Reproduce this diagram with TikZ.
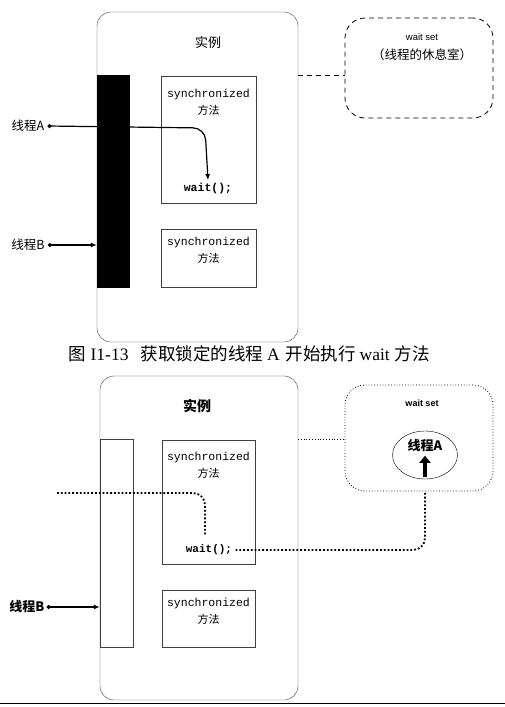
\documentclass[tikz,border=0pt]{standalone}
\usepackage{fontspec}
\setmainfont{Liberation Serif}
\setsansfont{Liberation Sans}
\setmonofont{Liberation Mono}
\newfontfamily\cjk{Noto Sans CJK SC}
\usetikzlibrary{arrows.meta,shapes.geometric}
\tikzset{
  inst/.style={draw=black!75, thin, rounded corners=14pt},
  syncbox/.style={draw=black!75, thin},
  codetxt/.style={font=\ttfamily\fontsize{11.5}{13}\selectfont},
  hantxt/.style={font=\cjk\fontsize{11}{13}\selectfont},
  thread/.style={font=\cjk\fontsize{12.5}{14}\selectfont, inner sep=3pt},
}
\begin{document}
\begin{tikzpicture}[x=1pt, y=-1pt, >={Latex[length=6pt,width=5pt]}]
\useasboundingbox (0,0) rectangle (505,707);
% Objeto (A tiene el bloqueo)
\node[inst, minimum width=201, minimum height=330] (objA) at (197.5,177) {};
\node[font=\cjk\fontsize{13}{15}\selectfont] (instA) at (208,43) {实例};
\node[syncbox, minimum width=95, minimum height=127] (syncA1) at (208.5,139.5) {};
\node[codetxt] (synA1) at (208.5,95) {synchronized};
\node[hantxt] (metA1) at (208.5,110) {方法};
\node[codetxt, font=\ttfamily\bfseries\fontsize{11.5}{13}\selectfont] (waitA) at (208,189) {wait();};
\node[syncbox, minimum width=95, minimum height=58] (syncA2) at (208.5,258) {};
\node[codetxt] (synA2) at (208.5,243) {synchronized};
\node[hantxt] (metA2) at (208.5,258) {方法};
\node[fill=black, minimum width=33, minimum height=213, inner sep=0] (lockA) at (113.5,181.5) {};
% Hilos
\node[thread] (tA) at (28,126) {线程A};
\node[thread] (tB) at (28,245) {线程B};
\draw[line width=1.2pt, {Circle[length=4pt]}->, rounded corners=12pt] (tA.east) -- (205,128) -- (waitA.north);
\draw[line width=1.2pt, {Circle[length=4pt]}->] (tB.east) -- (tB.east -| lockA.west);
% Wait set
\node[draw, thick, dashed, dash pattern=on 5pt off 4pt, rounded corners=20pt, minimum width=148, minimum height=100] (wsA) at (419,68) {};
\node[font=\sffamily\fontsize{9.5}{11}\selectfont] (wsAtit) at (422,37) {wait set};
\node[font=\cjk\fontsize{12.5}{14}\selectfont] (wsAsub) at (422,55) {（线程的休息室）};
\coordinate (jA) at (298,75);
\draw[thick, dashed, dash pattern=on 5pt off 4pt] (jA) -- (jA -| wsA.west);
% Pie
\node[font=\fontsize{17.5}{20}\selectfont, inner sep=0] (capA) at (249,354)
  {{\cjk 图}\hspace{5pt}I1-13\hspace{12pt}{\cjk 获取锁定的线程}\hspace{4pt}A\hspace{6pt}{\cjk 开始执行}\hspace{4pt}wait\hspace{5pt}{\cjk 方法}};
% Objeto (A en el wait set)
\node[inst, minimum width=198, minimum height=324] (objB) at (199,538) {};
\node[font=\cjk\bfseries\fontsize{14}{16}\selectfont] (instB) at (197,406) {实例};
\node[draw=black!75, thin, fill=white, minimum width=33, minimum height=208, inner sep=0] (lockB) at (116.5,543) {};
\node[syncbox, minimum width=93, minimum height=124] (syncB1) at (208.5,502) {};
\node[codetxt] (synB1) at (208.5,458) {synchronized};
\node[hantxt] (metB1) at (208.5,473) {方法};
\node[codetxt, font=\ttfamily\bfseries\fontsize{11}{13}\selectfont] (waitB) at (209,550) {wait();};
\node[syncbox, minimum width=93, minimum height=57] (syncB2) at (208.5,618.5) {};
\node[codetxt] (synB2) at (208.5,604) {synchronized};
\node[hantxt] (metB2) at (208.5,619) {方法};
% Wait set
\node[draw, thick, dotted, rounded corners=20pt, minimum width=148, minimum height=106] (wsB) at (419,438) {};
\node[font=\sffamily\bfseries\fontsize{9}{11}\selectfont] (wsBtit) at (422,403) {wait set};
\node[draw, thin, ellipse, minimum width=65, minimum height=48] (thrA) at (425,455) {};
\node[font=\cjk\bfseries\fontsize{13}{15}\selectfont] (thrAtxt) at (425,446) {线程A};
\draw[line width=4.5pt, -{Triangle[width=11pt,length=7pt]}] ([yshift=2pt]thrA.south) -- (thrAtxt.south);
\coordinate (jB) at (298,439);
\draw[thick, dotted] (jB) -- (jB -| wsB.west);
% Camino de A
\coordinate (fromA) at (57,493);
\draw[line width=1.8pt, dotted, rounded corners=12pt] (fromA) -- (205,493) -- ([yshift=6pt]waitB.north -| 205,0);
\draw[line width=1.8pt, dotted, rounded corners=12pt] (waitB.east) -- (waitB.east -| thrA.south) -- (thrA.south |- wsB.south);
% Hilo B
\node[thread, font=\cjk\bfseries\fontsize{13}{15}\selectfont, inner sep=2pt] (tB2) at (27,607) {线程B};
\draw[line width=1.2pt, {Circle[length=4pt]}->] (tB2.east) -- (tB2.east -| lockB.west);
\draw[thick] (0,703) -- (505,703);
\end{tikzpicture}
\end{document}
